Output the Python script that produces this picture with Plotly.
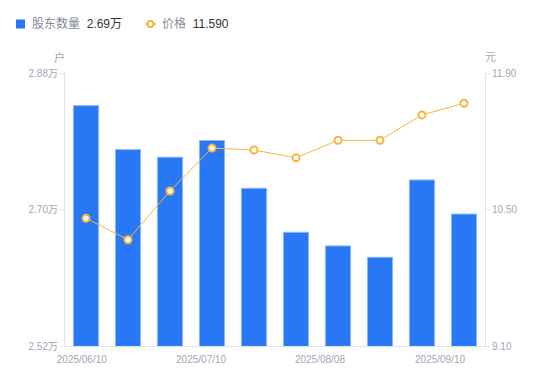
import plotly.graph_objects as go

dates = ["2025/06/10", "2025/06/20", "2025/06/30", "2025/07/10", "2025/07/18",
         "2025/07/31", "2025/08/08", "2025/08/20", "2025/08/29", "2025/09/10"]
holders = [2.837, 2.779, 2.769, 2.791, 2.728, 2.670, 2.652, 2.637, 2.739, 2.694]  # 万户
price = [10.41, 10.19, 10.69, 11.13, 11.11, 11.03, 11.21, 11.21, 11.47, 11.59]
shown_labels = ["2025/06/10", "2025/07/10", "2025/08/08", "2025/09/10"]
left_ticks = [2.52, 2.70, 2.88]
right_ticks = [9.10, 10.50, 11.90]

BLUE = "#2878f5"
ORANGE = "#f8b53c"
GREY = "#a3a6b4"
AX = "#e3e3e6"
FONT = "Liberation Sans, Arial, Noto Sans CJK SC, sans-serif"

xs = list(range(len(dates)))

fig = go.Figure()
fig.add_trace(go.Bar(x=xs, y=holders, width=0.6, yaxis="y",
                     marker=dict(color=BLUE, line=dict(color="#8fb8fa", width=1)),
                     showlegend=False, hoverinfo="skip"))
fig.add_trace(go.Scatter(x=xs, y=price, yaxis="y2", mode="lines+markers",
                         line=dict(color=ORANGE, width=1),
                         marker=dict(size=7, color="white", line=dict(color=ORANGE, width=2)),
                         showlegend=False, hoverinfo="skip"))

# tick label positions for the date axis (evenly spread as in reference)
tick_pos = [-0.1, 2.74, 5.57, 8.43]

fig.update_layout(
    width=550, height=381,
    margin=dict(l=65, r=65, t=73, b=35),
    paper_bgcolor="white", plot_bgcolor="white",
    font=dict(family=FONT, size=10, color=GREY),
    bargap=0.4,
    hovermode=False,
    xaxis=dict(range=[-0.5, len(dates) - 0.5], tickvals=tick_pos, ticktext=shown_labels,
               showgrid=False, zeroline=False, showline=True, linecolor=AX, linewidth=1,
               ticks="", ticklabelstandoff=4, tickfont=dict(size=10, color=GREY)),
    yaxis=dict(range=[left_ticks[0], left_ticks[-1]], tickvals=left_ticks,
               ticktext=[f"{v:.2f}万" for v in left_ticks],
               showgrid=False, zeroline=False, showline=True, linecolor=AX, linewidth=1,
               ticks="outside", ticklen=4, tickcolor=AX, tickfont=dict(size=10, color=GREY)),
    yaxis2=dict(range=[right_ticks[0], right_ticks[-1]], tickvals=right_ticks,
                ticktext=[f"{v:.2f}" for v in right_ticks], overlaying="y", side="right",
                showgrid=False, zeroline=False, showline=True, linecolor=AX, linewidth=1,
                ticks="outside", ticklen=4, tickcolor=AX, tickfont=dict(size=10, color=GREY)),
)

def px_x(px):
    return (px - 65) / 420

def px_y(py):
    return (346 - py) / 273

# axis unit titles
for tx, px in (("户", 59), ("元", 490)):
    fig.add_annotation(x=px_x(px), y=px_y(57), xref="paper", yref="paper", text=tx,
                       xanchor="center", yanchor="middle",
                       showarrow=False, font=dict(size=11, color=GREY))

# custom legend
ly = px_y(24)
fig.add_shape(type="rect", xref="paper", yref="paper",
              x0=px_x(16), x1=px_x(25), y0=px_y(28.5), y1=px_y(19.5),
              fillcolor=BLUE, line=dict(width=0))
fig.add_annotation(x=px_x(30), y=ly, xref="paper", yref="paper", xanchor="left", yanchor="middle",
                   text=f"股东数量  <span style='color:#333'>{holders[-1]:.2f}万</span>",
                   showarrow=False, font=dict(size=12, color="#888a96"))
fig.add_shape(type="line", xref="paper", yref="paper",
              x0=px_x(145), x1=px_x(156), y0=ly, y1=ly, line=dict(color=ORANGE, width=1.5))
fig.add_shape(type="circle", xref="paper", yref="paper",
              x0=px_x(147.5), x1=px_x(153.5), y0=px_y(27), y1=px_y(21),
              fillcolor="white", line=dict(color=ORANGE, width=2))
fig.add_annotation(x=px_x(160), y=ly, xref="paper", yref="paper", xanchor="left", yanchor="middle",
                   text=f"价格  <span style='color:#333'>{price[-1]:.3f}</span>",
                   showarrow=False, font=dict(size=12, color="#888a96"))

fig.write_html("out.html", config={"displayModeBar": False, "staticPlot": True},
               post_script="document.body.style.margin='0';")
